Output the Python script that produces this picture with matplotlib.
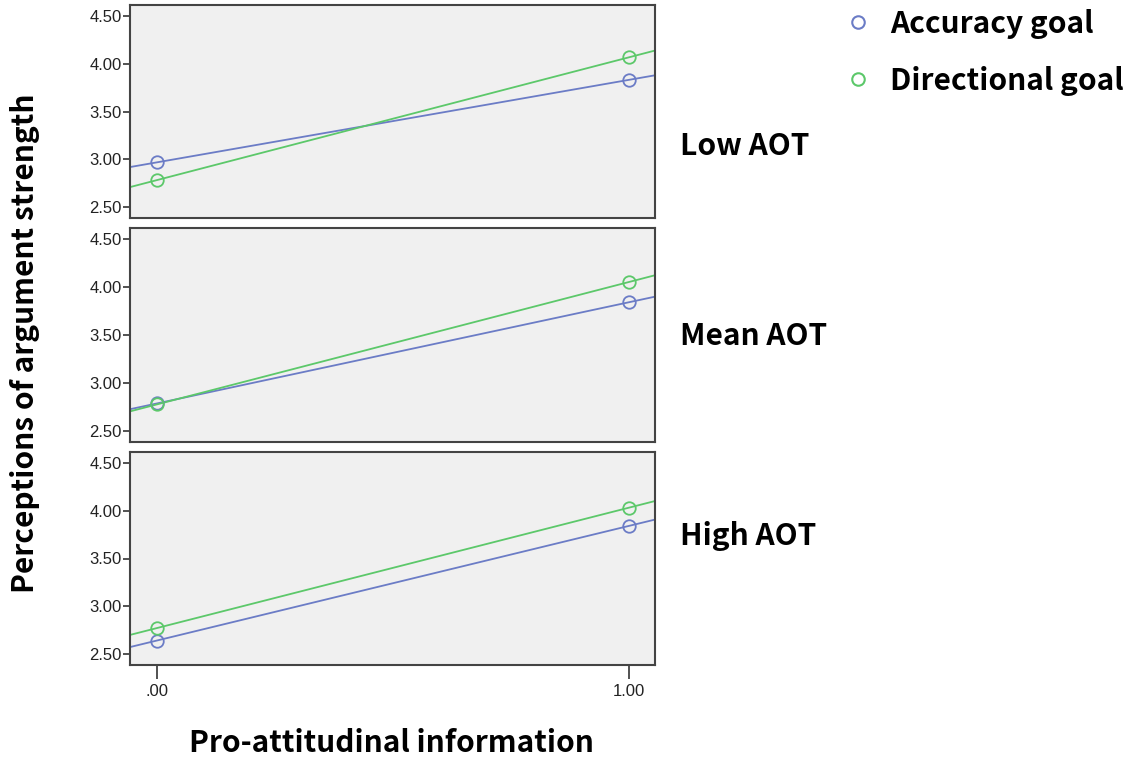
import numpy as np
import matplotlib
matplotlib.use('Agg')
import matplotlib.pyplot as plt

plt.rcParams['font.family'] = ['Liberation Sans', 'DejaVu Sans']

# data
x_vals = [0.0, 1.0]
x_ticklabels = ['.00', '1.00']
panels = ['Low AOT', 'Mean AOT', 'High AOT']
accuracy = [[2.97, 3.83], [2.79, 3.84], [2.645, 3.84]]
directional = [[2.785, 4.065], [2.78, 4.05], [2.775, 4.03]]
series_names = ['Accuracy goal', 'Directional goal']
y_ticks = [2.50, 3.00, 3.50, 4.00, 4.50]

c_blue = '#6b7cc6'
c_green = '#5cc86a'
bold_font = ['Noto Sans CJK KR', 'DejaVu Sans']
big = 21.5

W, H = 1133, 761
fig = plt.figure(figsize=(W/100, H/100), dpi=100)

# panel pixel boxes (top, bottom)
boxes = [(5, 218), (228, 442), (452, 665)]
left, right = 130, 655
xlim = (-0.057, 1.055)

for i, (top, bot) in enumerate(boxes):
    ax = fig.add_axes([left/W, 1-bot/H, (right-left)/W, (bot-top)/H])
    ax.set_facecolor('#f0f0f0')
    ax.set_xlim(*xlim)
    ax.set_ylim(2.39, 4.61)
    for ys, col in [(accuracy[i], c_blue), (directional[i], c_green)]:
        k, b = np.polyfit(x_vals, ys, 1)
        xx = np.array(xlim)
        ax.plot(xx, k*xx+b, color=col, lw=1.3, zorder=2)
        ax.plot(x_vals, ys, 'o', mfc='none', mec=col, ms=9, mew=1.3, zorder=3)
    ax.set_yticks(y_ticks)
    ax.set_yticklabels(['%.2f' % t for t in y_ticks])
    ax.tick_params(axis='y', direction='out', length=5, width=1.2, color='#333333',
                   labelsize=12, labelcolor='#222222', pad=1)
    for s in ax.spines.values():
        s.set_color('#444444')
        s.set_linewidth(1.5)
    if i < 2:
        ax.set_xticks([])
    else:
        ax.set_xticks(x_vals)
        ax.set_xticklabels(x_ticklabels)
        ax.tick_params(axis='x', direction='out', length=10, width=1.2, color='#333333',
                       labelsize=12, labelcolor='#222222', pad=4)

# panel labels
label_y = [146, 336, 536]
for name, yp in zip(panels, label_y):
    fig.text(680/W, 1-yp/H, name, fontsize=big, fontweight='bold', family=bold_font,
             ha='left', va='center', color='black')

# legend
for name, col, yp in zip(series_names, [c_blue, c_green], [22, 79]):
    fig.lines.append(plt.Line2D([858/W], [1-yp/H], marker='o', mfc='none', mec=col,
                                ms=9, mew=1.5, transform=fig.transFigure, ls='none'))
    fig.text(890/W, 1-(yp+2)/H, name, fontsize=big, fontweight='bold', family=bold_font,
             ha='left', va='center', color='black')

fig.text(25/W, 1-343/H, 'Perceptions of argument strength', rotation=90, fontsize=big,
         fontweight='bold', family=bold_font, ha='center', va='center')
fig.text(391/W, 1-743/H, 'Pro-attitudinal information', fontsize=big,
         fontweight='bold', family=bold_font, ha='center', va='center')

fig.savefig('out.png', dpi=100, facecolor='white')
